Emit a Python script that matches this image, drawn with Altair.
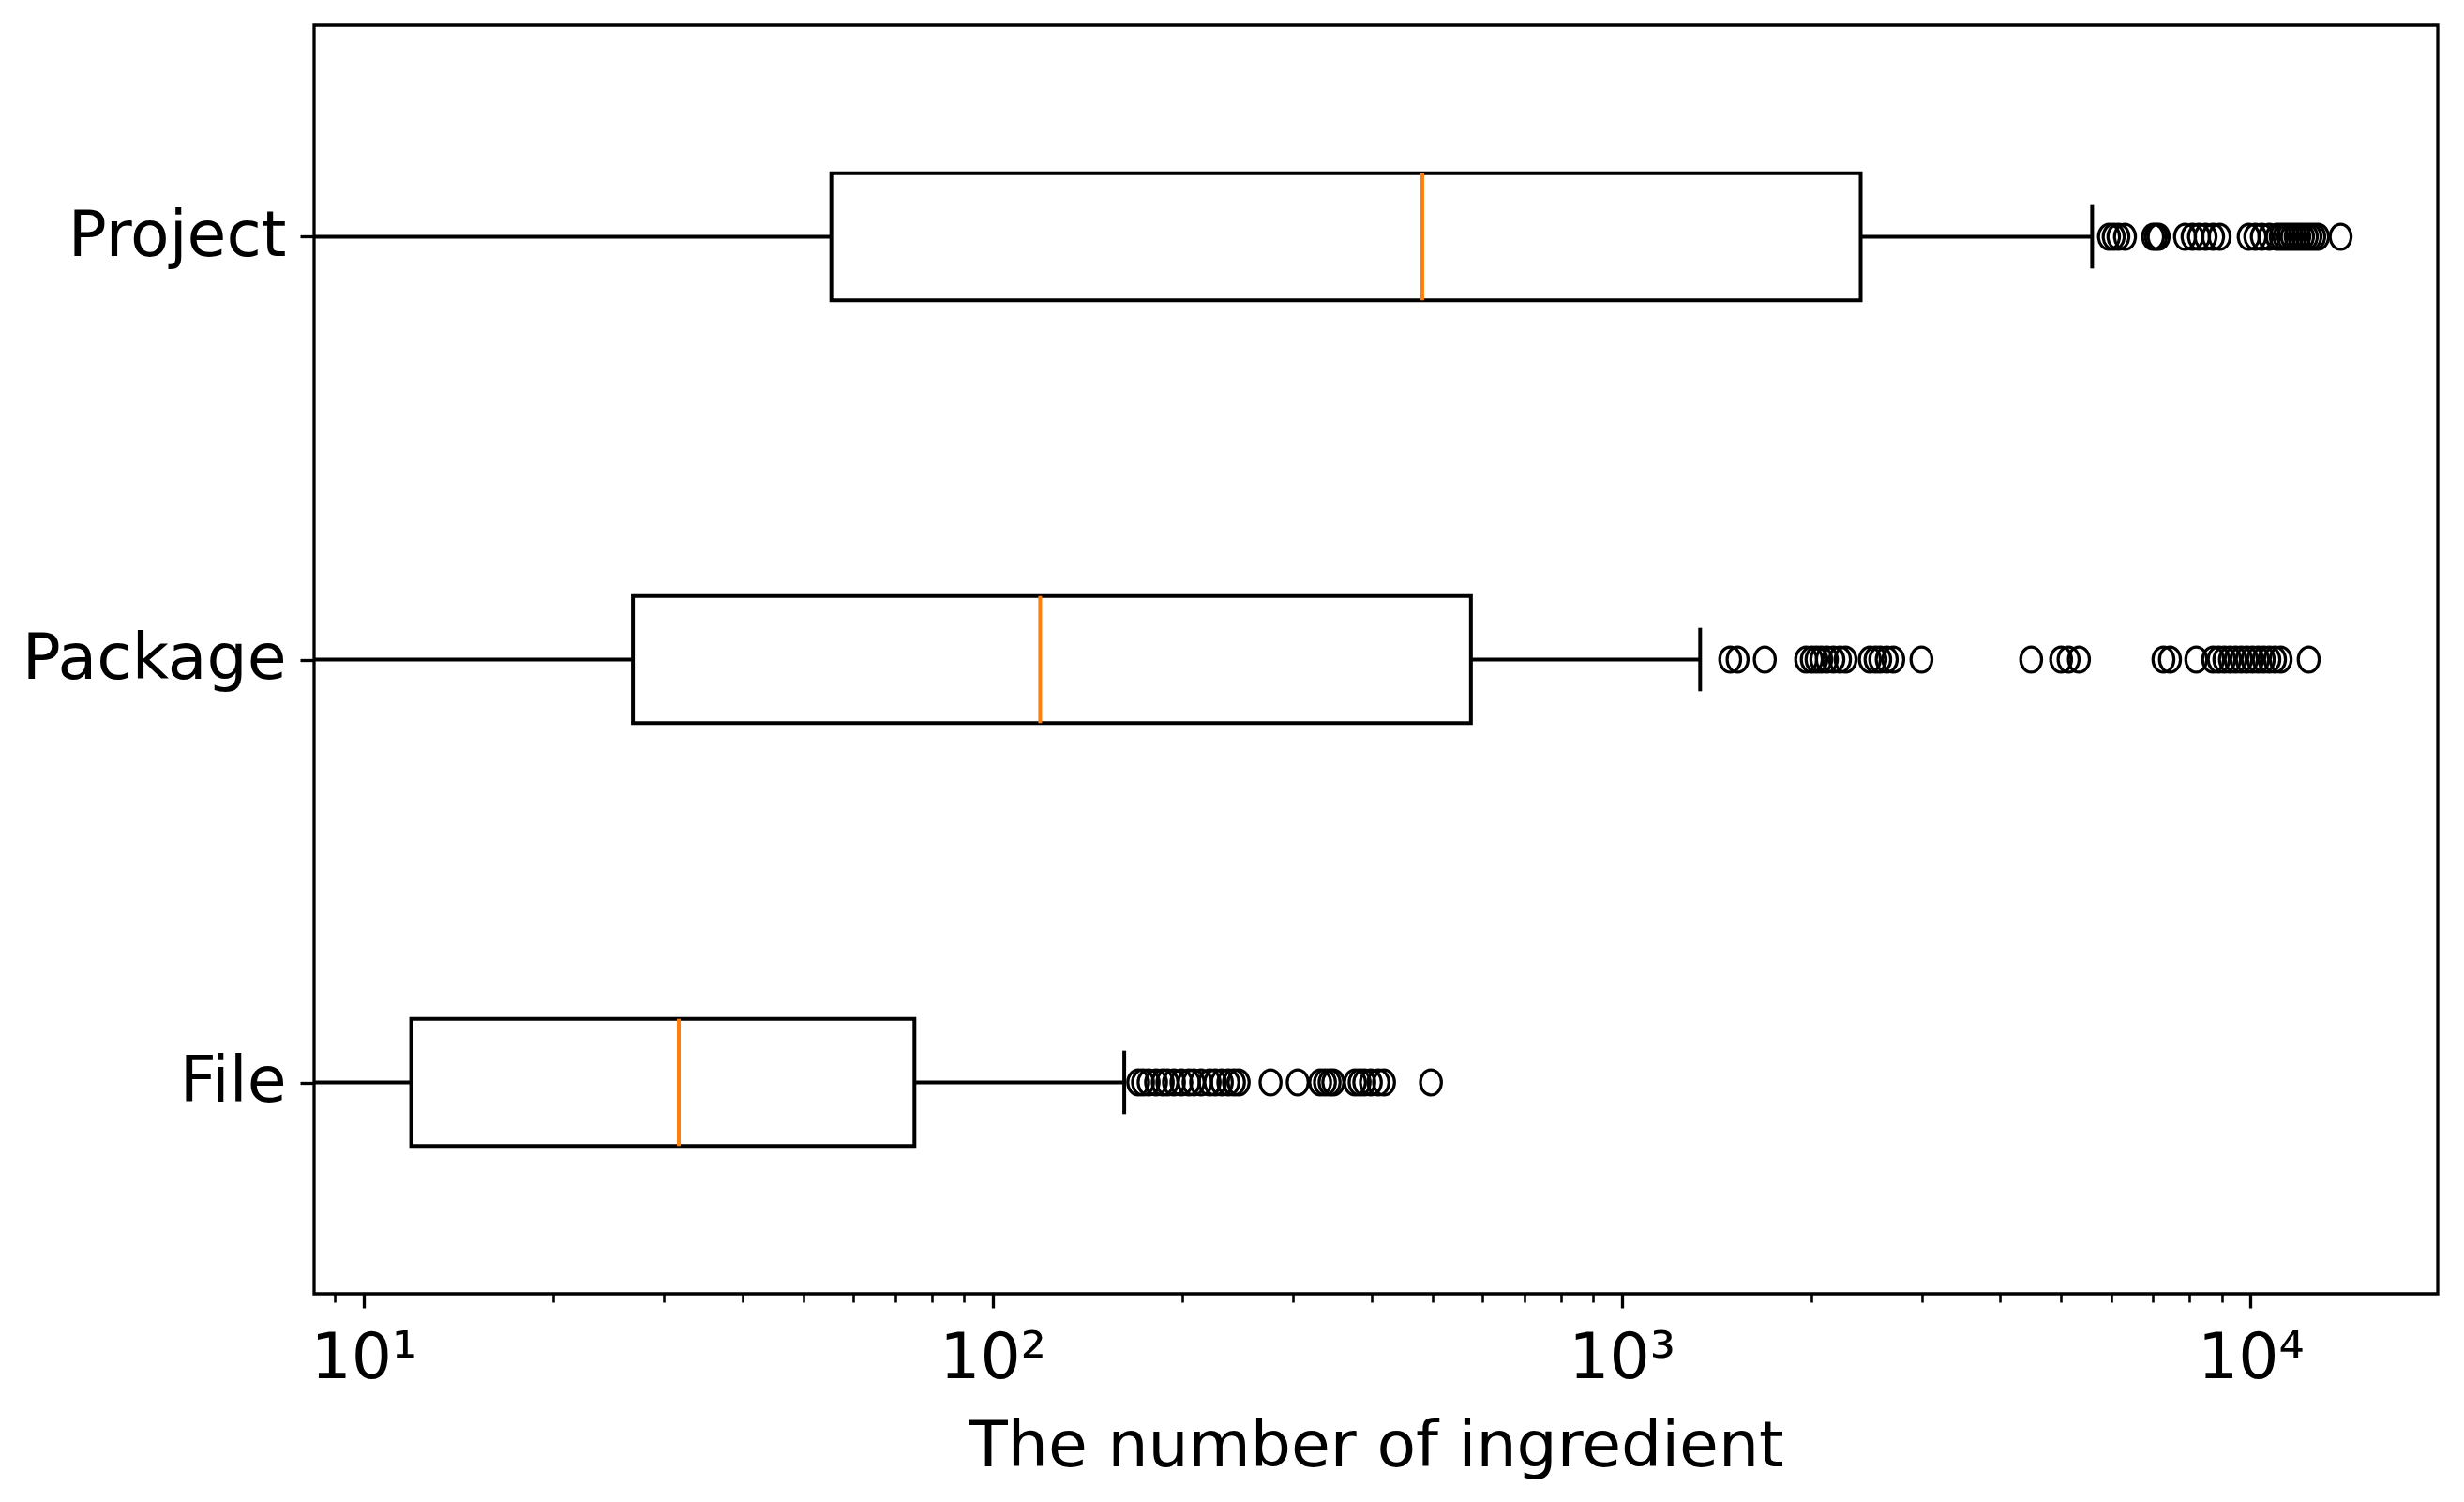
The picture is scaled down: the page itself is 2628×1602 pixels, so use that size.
import altair as alt
import pandas as pd

# ---- data ----
categories = ["File", "Package", "Project"]          # bottom to top
q1 = [11.9, 26.8, 55.4]
median = [31.7, 119.0, 482.0]
q3 = [75.1, 576.0, 2399.0]
whisker_lo = [1.0, 1.0, 1.0]                          # run past the left edge
whisker_hi = [161.9, 1333.0, 5598.0]

file_outliers = [170.4, 173.4, 177.0, 181.9, 186.4, 189.6, 194.2, 199.6, 205.1,
                 208.7, 214.5, 221.3, 225.9, 231.4, 237.0, 241.9, 246.1, 276.6,
                 305.5, 331.7, 337.5, 343.3, 348.0, 376.7, 383.2, 389.8, 399.3,
                 410.5, 419.0, 497.5]
package_outliers = [1488, 1529, 1689, 1965, 2006, 2041, 2077, 2120, 2171, 2224,
                    2270, 2481, 2533, 2577, 2639, 2703, 2997, 4478, 4997, 5136,
                    5334, 7268, 7444, 8196, 8717, 8898, 9084, 9273, 9465, 9663,
                    9863, 10069, 10278, 10493, 10711, 10934, 11164, 12371]
project_outliers = [5955, 6058, 6164, 6314, 6996, 7070, 7143, 7865, 8085, 8279,
                    8481, 8717, 8929, 9931, 10173, 10420, 10711, 11010, 11164,
                    11316, 11473, 11630, 11791, 11953, 12116, 12285, 12453, 12624,
                    12800, 13904]

x_domain = [8.34, 19840]
major_ticks = [10, 100, 1000, 10000]
major_labels = ["10¹", "10²", "10³", "10⁴"]
minor_ticks = [9, 20, 30, 40, 50, 60, 70, 80, 90,
               200, 300, 400, 500, 600, 700, 800, 900,
               2000, 3000, 4000, 5000, 6000, 7000, 8000, 9000]
x_title = "The number of ingredient"

# ---- tables ----
boxes = pd.DataFrame({
    "cat": categories,
    "pos": list(range(1, len(categories) + 1)),
    "q1": q1, "median": median, "q3": q3,
    "lo": whisker_lo, "hi": whisker_hi,
})
out_rows = []
for cat, vals in zip(categories, [file_outliers, package_outliers, project_outliers]):
    pos = categories.index(cat) + 1
    for v in vals:
        out_rows.append({"cat": cat, "pos": pos, "value": v})
outliers = pd.DataFrame(out_rows)

FONT = "DejaVu Sans"
FS = 68
LW = 4

label_expr_x = "".join(f"datum.value == {v} ? '{l}' : " for v, l in zip(major_ticks, major_labels)) + "''"
major_test = "indexof([" + ",".join(str(v) for v in major_ticks) + "], datum.value) >= 0"
label_expr_y = "".join(f"datum.value == {i + 1} ? '{c}' : " for i, c in enumerate(categories)) + "''"

xscale = alt.Scale(type="log", domain=x_domain, nice=False)
yscale = alt.Scale(domain=[0.5, len(categories) + 0.5], nice=False, zero=False)

xaxis = alt.Axis(
    values=sorted(major_ticks + minor_ticks),
    labelExpr=label_expr_x,
    tickSize={"condition": {"test": major_test, "value": 15}, "value": 9},
    tickWidth={"condition": {"test": major_test, "value": 3.3}, "value": 2.6},
    tickColor="black", domain=False, grid=False,
    labelFont=FONT, labelFontSize=FS, labelColor="black",
    labelPadding=20, labelFlush=False, labelOverlap=False,
    title=x_title, titleFont=FONT, titleFontSize=FS, titleFontWeight="normal",
    titleColor="black", titleY=183, titleBaseline="alphabetic",
)
yaxis = alt.Axis(
    values=list(range(1, len(categories) + 1)),
    labelExpr=label_expr_y,
    tickSize=15, tickWidth=3.3, tickColor="black", domain=False, grid=False,
    labelFont=FONT, labelFontSize=FS, labelColor="black", labelPadding=15,
    labelLimit=0,
    title=None,
)

base = alt.Chart(boxes)

whisk_lo = base.mark_rule(color="black", strokeWidth=LW, clip=True).encode(
    x=alt.X("lo:Q", scale=xscale, axis=xaxis),
    x2="q1:Q",
    y=alt.Y("pos:Q", scale=yscale, axis=yaxis),
)
whisk_hi = base.mark_rule(color="black", strokeWidth=LW).encode(
    x=alt.X("q3:Q", scale=xscale), x2="hi:Q",
    y=alt.Y("pos:Q", scale=yscale),
)
box = base.transform_calculate(
    y0="datum.pos - 0.15", y1="datum.pos + 0.15"
).mark_rect(fill="white", stroke="black", strokeWidth=LW).encode(
    x=alt.X("q1:Q", scale=xscale), x2="q3:Q",
    y=alt.Y("y0:Q", scale=yscale), y2="y1:Q",
)
caps = base.transform_calculate(
    y0="datum.pos - 0.075", y1="datum.pos + 0.075"
).mark_rule(color="black", strokeWidth=LW).encode(
    x=alt.X("hi:Q", scale=xscale),
    y=alt.Y("y0:Q", scale=yscale), y2="y1:Q",
)
med = base.transform_calculate(
    y0="datum.pos - 0.15", y1="datum.pos + 0.15"
).mark_rule(color="#ff7f0e", strokeWidth=LW).encode(
    x=alt.X("median:Q", scale=xscale),
    y=alt.Y("y0:Q", scale=yscale), y2="y1:Q",
)
ellipse = "M -1,0 A 1,1.2 0 1,1 1,0 A 1,1.2 0 1,1 -1,0 Z"
fliers = alt.Chart(outliers).mark_point(
    shape=ellipse, filled=False, stroke="black", strokeWidth=3.2, opacity=1, size=500
).encode(
    x=alt.X("value:Q", scale=xscale),
    y=alt.Y("pos:Q", scale=yscale),
)

chart = alt.layer(whisk_lo, whisk_hi, box, caps, med, fliers).properties(
    width=2265, height=1353,
    background="white",
    padding={"left": 327, "top": 19, "right": 16, "bottom": 200},
    autosize=alt.AutoSizeParams(type="none"),
).configure_view(
    stroke="black", strokeWidth=3.3, fill="white"
)

chart.save("out.html", embed_options={"renderer": "svg", "actions": False})
